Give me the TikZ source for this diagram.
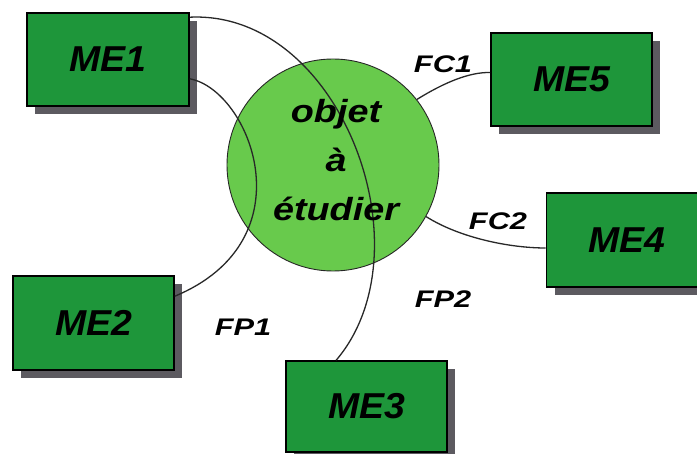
\documentclass[tikz,border=0pt]{standalone}
\usepackage{fontspec}
\usepackage{graphicx}
\setmainfont{Liberation Sans}
\usetikzlibrary{calc,shadows}

\definecolor{boxgreen}{RGB}{30,150,58}
\definecolor{ballgreen}{RGB}{104,202,76}
\definecolor{shadowgray}{RGB}{92,90,96}
\definecolor{wirecol}{RGB}{40,40,40}

% horizontally widened text
\newcommand\widetext[2]{\scalebox{#1}[1]{#2}}

\begin{document}
\begin{tikzpicture}[x=1pt,y=-1pt,
  envbox/.style={draw=black, line width=1.6pt, fill=boxgreen,
    minimum width=162pt, minimum height=93pt, inner sep=0pt,
    general shadow={fill=shadowgray, shadow xshift=8pt, shadow yshift=-8pt},
    font=\fontsize{36}{40}\selectfont\bfseries\itshape},
  ball/.style={circle, draw=black!85, line width=0.9pt, fill=ballgreen,
    minimum size=212pt, inner sep=0pt},
  balltext/.style={align=center, inner sep=0pt,
    font=\fontsize{32}{49}\selectfont\bfseries\itshape},
  fnlabel/.style={inner sep=0pt, font=\fontsize{24}{28}\selectfont\bfseries\itshape},
  wire/.style={draw=wirecol, line width=1.3pt}
]
\useasboundingbox (0,0) rectangle (697,454);
\fill[white] (0,0) rectangle (697,454);

% the object under study
\node[ball] (obj) at (333,165) {};

% surrounding elements
\node[envbox] (me1) at (108,59.5) {\widetext{1.04}{ME1}};
\node[envbox, minimum width=161pt, minimum height=94pt] (me2) at (93.5,323) {\widetext{1.04}{ME2}};
\node[envbox, minimum width=161pt, minimum height=91pt] (me3) at (366.5,406.5) {\widetext{1.04}{ME3}};
\node[envbox, minimum width=161pt, minimum height=94pt] (me4) at (627,240) {\widetext{1.04}{ME4}};
\node[envbox, minimum width=161pt] (me5) at (571.5,79.5) {\widetext{1.04}{ME5}};

% function links
\draw[wire] ($(me1.north east)+(0,5)$) .. controls (340,10) and (430,250) .. ($(me3.north west)+(51,0)$);
\draw[wire] ($(me1.south east)+(0,-28)$) .. controls (250,90) and (310,240) .. ($(me2.north east)+(0,21)$);
\draw[wire] (obj.38) .. controls (445,82) and (470,72) .. ($(me5.west)+(0,-7)$);
\draw[wire] (obj.-29) .. controls (460,238) and (510,248) .. ($(me4.west)+(0,8)$);

% texts
\node[balltext] (objtext) at (336,160) {\widetext{1.18}{objet}\\\widetext{1.18}{à}\\\widetext{1.18}{étudier}};
\node[fnlabel] (fc1) at (443,64) {\widetext{1.28}{FC1}};
\node[fnlabel] (fc2) at (498,221) {\widetext{1.28}{FC2}};
\node[fnlabel] (fp2) at (443,299) {\widetext{1.28}{FP2}};
\node[fnlabel] (fp1) at (243,327) {\widetext{1.28}{FP1}};
\end{tikzpicture}
\end{document}
